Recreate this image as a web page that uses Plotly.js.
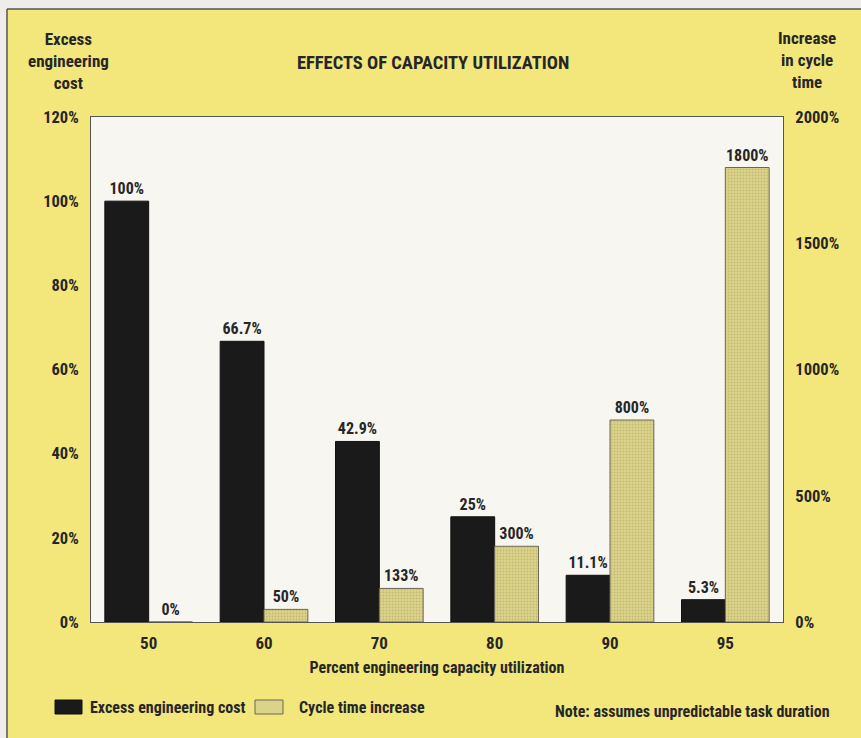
<!DOCTYPE html>
<html>
<head>
<meta charset="utf-8">
<script src="https://cdn.plot.ly/plotly-3.0.1.min.js"></script>
<style>html,body{margin:0;padding:0;background:#eeede9;}#chart{width:861px;height:738px;}</style>
</head>
<body>
<div id="chart"></div>
<script>
// ---- data ----
const categories = ['50', '60', '70', '80', '90', '95'];
const costValues = [100, 66.7, 42.9, 25, 11.1, 5.3];
const costLabels = ['100%', '66.7%', '42.9%', '25%', '11.1%', '5.3%'];
const cycleValues = [0, 50, 133, 300, 800, 1800];
const cycleLabels = ['0%', '50%', '133%', '300%', '800%', '1800%'];
const seriesNames = ['Excess engineering cost', 'Cycle time increase'];
const leftTicks = [0, 20, 40, 60, 80, 100, 120];
const rightTicks = [0, 500, 1000, 1500, 2000];

// ---- layout helpers (pixel -> paper) ----
const W = 861, H = 738;
const L = 91, R = 783, T = 117, B = 622;
const px = x => (x - L) / (R - L);
const py = y => (B - y) / (B - T);

const FONT = "'Roboto Condensed', 'Noto Sans Condensed', 'Liberation Sans Narrow', Roboto, sans-serif";
const TXT = '#262626';
const YELLOW = '#f3e77c';
const DARK = '#1a1a1a';
const KHAKI = '#dcd38a';
const mk = (size) => ({family: FONT, size: size, color: TXT, weight: 'bold', stretch: 'condensed'});

const traces = [
  {
    type: 'bar', name: seriesNames[0], x: categories, y: costValues,
    text: costLabels, textposition: 'outside', cliponaxis: false, constraintext: 'none',
    textfont: mk(16),
    marker: {color: DARK, line: {color: '#111', width: 1}},
    offsetgroup: 'a', yaxis: 'y', showlegend: false, hoverinfo: 'x+y'
  },
  {
    type: 'bar', name: seriesNames[1], x: categories, y: cycleValues,
    text: cycleLabels, textposition: 'outside', cliponaxis: false, constraintext: 'none',
    textfont: mk(16),
    marker: {color: KHAKI, line: {color: '#6b6757', width: 1},
             pattern: {shape: '.', bgcolor: '#ddd48c', fgcolor: '#c2b872', size: 3, solidity: 0.3}},
    offsetgroup: 'b', yaxis: 'y2', showlegend: false, hoverinfo: 'x+y'
  }
];

const annFont = mk(16);

const layout = {
  width: W, height: H,
  margin: {l: L, r: W - R, t: T, b: H - B, pad: 0},
  paper_bgcolor: YELLOW,
  plot_bgcolor: '#f7f6f1',
  font: mk(16),
  barmode: 'group',
  bargap: 0.24,
  bargroupgap: 0,
  showlegend: false,
  title: {
    text: 'EFFECTS OF CAPACITY UTILIZATION',
    font: mk(18.5),
    x: 0.503, xanchor: 'center', y: 1 - 63 / H, yanchor: 'middle'
  },
  xaxis: {
    type: 'category', categoryorder: 'array', categoryarray: categories,
    showline: true, mirror: true, linecolor: '#555', linewidth: 1,
    ticks: '', showgrid: false, zeroline: false,
    tickfont: mk(17), ticklabelstandoff: 6,
    title: {text: 'Percent engineering capacity utilization', standoff: 9, font: mk(16)},
    automargin: false, fixedrange: true
  },
  yaxis: {
    range: [0, 120], tickvals: leftTicks, ticktext: leftTicks.map(v => v + '%'),
    showline: true, linecolor: '#555', linewidth: 1,
    ticks: '', showgrid: false, zeroline: false,
    tickfont: mk(16.5),
    ticklabelstandoff: 8, automargin: false, fixedrange: true
  },
  yaxis2: {
    overlaying: 'y', side: 'right',
    range: [0, 2000], tickvals: rightTicks, ticktext: rightTicks.map(v => v + '%'),
    showline: true, linecolor: '#555', linewidth: 1,
    ticks: '', showgrid: false, zeroline: false,
    tickfont: mk(16.5),
    ticklabelstandoff: 8, automargin: false, fixedrange: true
  },
  shapes: [
    {type: 'rect', xref: 'paper', yref: 'paper', x0: px(0), x1: px(W), y0: py(9), y1: py(0),
     fillcolor: '#eeede9', line: {width: 0}, layer: 'below'},
    {type: 'rect', xref: 'paper', yref: 'paper', x0: px(0), x1: px(7), y0: py(H), y1: py(0),
     fillcolor: '#eeede9', line: {width: 0}, layer: 'below'},
    {type: 'line', xref: 'paper', yref: 'paper', x0: px(7), x1: px(W), y0: py(9), y1: py(9),
     line: {color: '#555', width: 1.5}},
    {type: 'line', xref: 'paper', yref: 'paper', x0: px(7), x1: px(7), y0: py(9), y1: py(H),
     line: {color: '#555', width: 1.5}},
    {type: 'rect', xref: 'paper', yref: 'paper', x0: px(55), x1: px(82), y0: py(714), y1: py(700),
     fillcolor: DARK, line: {color: '#111', width: 1}},
    {type: 'rect', xref: 'paper', yref: 'paper', x0: px(255), x1: px(283), y0: py(714), y1: py(700),
     fillcolor: KHAKI, line: {color: '#6b6757', width: 1}}
  ],
  annotations: [
    {xref: 'paper', yref: 'paper', x: px(68), y: py(61), xanchor: 'center', yanchor: 'middle',
     text: 'Excess<br>engineering<br>cost', showarrow: false, font: mk(17), align: 'center'},
    {xref: 'paper', yref: 'paper', x: px(807), y: py(60), xanchor: 'center', yanchor: 'middle',
     text: 'Increase<br>in cycle<br>time', showarrow: false, font: mk(17), align: 'center'},
    {xref: 'paper', yref: 'paper', x: px(88), y: py(707), xanchor: 'left', yanchor: 'middle',
     text: seriesNames[0], showarrow: false, font: annFont},
    {xref: 'paper', yref: 'paper', x: px(297), y: py(707), xanchor: 'left', yanchor: 'middle',
     text: seriesNames[1], showarrow: false, font: annFont},
    {xref: 'paper', yref: 'paper', x: px(832), y: py(711), xanchor: 'right', yanchor: 'middle',
     text: 'Note: assumes unpredictable task duration', showarrow: false, font: annFont}
  ]
};

Plotly.newPlot('chart', traces, layout, {displayModeBar: false, staticPlot: true});
</script>
</body>
</html>
